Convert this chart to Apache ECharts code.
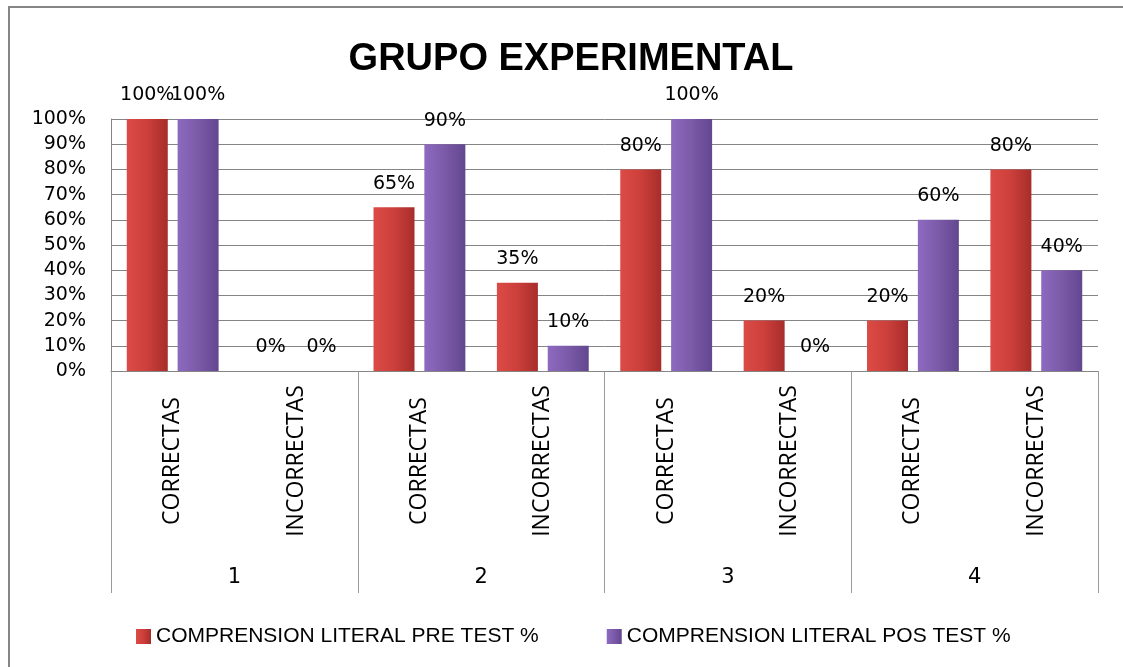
<!DOCTYPE html>
<html>
<head>
<meta charset="utf-8">
<title>GRUPO EXPERIMENTAL</title>
<script src="https://cdn.jsdelivr.net/npm/echarts@6/dist/echarts.min.js"></script>
<style>
  html, body { margin: 0; padding: 0; background: #fff; }
  #chart { width: 1123px; height: 667px; }
</style>
</head>
<body>
<div id="chart"></div>
<script>
// datos del grafico
var categorias = ["CORRECTAS", "INCORRECTAS", "CORRECTAS", "INCORRECTAS",
                  "CORRECTAS", "INCORRECTAS", "CORRECTAS", "INCORRECTAS"];
var grupos = ["1", "2", "3", "4"];
var preTest = [100, 0, 65, 35, 80, 20, 20, 80];
var posTest = [100, 0, 90, 10, 100, 0, 60, 40];
var nombrePre = "COMPRENSION LITERAL PRE TEST %";
var nombrePos = "COMPRENSION LITERAL POS TEST %";

var gris = "#858585";

function degradado(c1, c2, c3) {
  return new echarts.graphic.LinearGradient(0, 0, 1, 0, [
    { offset: 0, color: c1 },
    { offset: 0.5, color: c2 },
    { offset: 1, color: c3 }
  ]);
}

var etiqueta = {
  show: true,
  position: "top",
  distance: 14,
  formatter: "{c}%",
  color: "#000",
  fontFamily: "DejaVu Sans",
  fontSize: 19
};

var option = {
  animation: false,
  backgroundColor: "#fff",
  title: {
    text: "GRUPO EXPERIMENTAL",
    left: 566,
    textAlign: "center",
    top: 36,
    textStyle: {
      fontFamily: "Liberation Sans",
      fontWeight: "bold",
      fontSize: 38,
      color: "#000"
    }
  },
  legend: {
    data: [nombrePre, nombrePos],
    left: 131,
    top: 621,
    itemWidth: 15,
    itemHeight: 15,
    itemGap: 68,
    icon: "rect",
    textStyle: { fontFamily: "Liberation Sans", fontSize: 21, color: "#000" }
  },
  grid: { left: 111, right: 25, top: 119, bottom: 296 },
  xAxis: [
    {
      type: "category",
      data: categorias,
      axisLine: { lineStyle: { color: gris, width: 1 } },
      axisTick: { show: false },
      axisLabel: {
        rotate: 90,
        align: "center",
        verticalAlign: "middle",
        margin: 90,
        interval: 0,
        color: "#000",
        fontFamily: "Open Sans",
        fontSize: 23
      }
    },
    {
      // segundo nivel: numero de grupo con separadores
      type: "category",
      position: "bottom",
      data: grupos,
      axisLine: { show: false },
      axisTick: { show: true, length: 222, lineStyle: { color: "#9a9a9a", width: 1 } },
      axisLabel: {
        margin: 196,
        color: "#000",
        fontFamily: "DejaVu Sans",
        fontSize: 21
      }
    }
  ],
  yAxis: {
    type: "value",
    min: 0,
    max: 100,
    interval: 10,
    axisLine: { show: true, lineStyle: { color: gris, width: 1 } },
    axisTick: { show: false },
    splitLine: { lineStyle: { color: gris, width: 1 } },
    axisLabel: {
      formatter: "{value}%",
      margin: 25,
      color: "#000",
      fontFamily: "DejaVu Sans",
      fontSize: 19
    }
  },
  series: [
    {
      name: nombrePre,
      type: "bar",
      data: preTest,
      barWidth: 41,
      barGap: "24%",
      itemStyle: {
        color: degradado("#dc4b46", "#cc3f3b", "#a72d2a")
      },
      label: etiqueta
    },
    {
      name: nombrePos,
      type: "bar",
      data: posTest,
      barWidth: 41,
      barGap: "24%",
      itemStyle: {
        color: degradado("#8d6ac0", "#7b5aa8", "#634690")
      },
      label: etiqueta
    }
  ],
  graphic: [
    {
      // borde exterior del grafico
      type: "rect",
      shape: { x: 9, y: 7, width: 1300, height: 900 },
      style: { fill: "none", stroke: gris, lineWidth: 2 },
      silent: true
    }
  ]
};

var myChart = echarts.init(document.getElementById("chart"));
myChart.setOption(option);
</script>
</body>
</html>
